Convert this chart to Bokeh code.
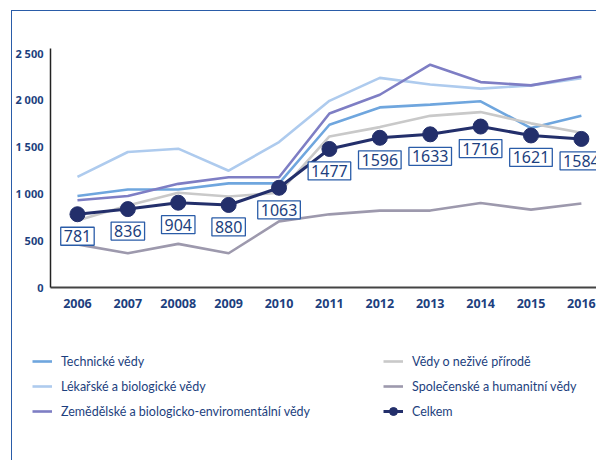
from bokeh.plotting import figure
from bokeh.layouts import column
from bokeh.models import (Range1d, FixedTicker, Legend, LegendItem, Label)
from bokeh.embed import file_html
from bokeh.resources import INLINE

# ---------------- data ----------------
years = [2006, 2007, 2008, 2009, 2010, 2011, 2012, 2013, 2014, 2015, 2016]
year_labels = ["2006", "2007", "20008", "2009", "2010", "2011", "2012",
               "2013", "2014", "2015", "2016"]

technicke = [975, 1045, 1045, 1110, 1110, 1735, 1920, 1950, 1985, 1700, 1830]
lekarske = [1180, 1445, 1480, 1245, 1550, 1990, 2235, 2165, 2120, 2155, 2230]
zemedelske = [930, 975, 1105, 1175, 1175, 1855, 2055, 2375, 2190, 2155, 2250]
nezive = [715, 875, 1010, 970, 1010, 1610, 1710, 1830, 1870, 1750, 1650]
spolecenske = [460, 365, 465, 365, 705, 780, 820, 820, 900, 830, 895]
celkem = [781, 836, 904, 880, 1063, 1477, 1596, 1633, 1716, 1621, 1584]

series_names = ["Technické vědy", "Lékařské a biologické vědy",
                "Zemědělské a biologicko-enviromentální vědy",
                "Vědy o neživé přírodě", "Společenské a humanitní vědy"]
celkem_name = "Celkem"

y_ticks = [0, 500, 1000, 1500, 2000, 2500]
y_tick_labels = ["0", "500", "1 000", "1 500", "2 000", "2 500"]

# ---------------- styles ----------------
colors = ["#6fa6de", "#aecbee", "#7e7ec4", "#c9c9c9", "#9d99ad"]
navy = "#232f6b"
text_blue = "#1d3f7e"
frame_blue = "#2a5ca8"

W = 584
H1 = 330
H2 = 119

p = figure(width=W, height=H1,
           x_range=Range1d(2005.465, 2016.3), y_range=Range1d(0, 2548),
           output_backend="svg", toolbar_location=None,
           min_border_left=38, min_border_top=37, min_border_bottom=H1 - 276,
           min_border_right=0)
p.outline_line_color = None
p.xgrid.grid_line_color = None
p.ygrid.grid_line_color = None

all_series = [technicke, lekarske, zemedelske, nezive, spolecenske]
for vals, col in zip(all_series, colors):
    p.line(years, vals, line_color=col, line_width=2.6)

p.line(years, celkem, line_color=navy, line_width=3)
p.scatter(years, celkem, size=15, fill_color=navy, line_color=navy)

for xv, yv in zip(years, celkem):
    p.add_layout(Label(x=xv, y=yv, text=str(yv), text_align="center",
                       text_baseline="top", y_offset=-13,
                       text_font_size="16px", text_font="Noto Sans",
                       text_color=text_blue, background_fill_color="white",
                       border_line_color=frame_blue, border_line_width=1.3,
                       padding=3))

# axes
p.xaxis.ticker = FixedTicker(ticks=years)
p.xaxis.major_label_overrides = dict(zip(years, year_labels))
p.yaxis.ticker = FixedTicker(ticks=y_ticks)
p.yaxis.major_label_overrides = dict(zip(y_ticks, y_tick_labels))
for ax in (p.xaxis, p.yaxis):
    ax.major_tick_line_color = None
    ax.minor_tick_line_color = None
    ax.major_tick_out = 0
    ax.major_tick_in = 0
    ax.major_label_text_font = "Noto Sans"
    ax.major_label_text_font_style = "bold"
    ax.major_label_text_color = text_blue
p.xaxis.major_label_text_font_size = "12.5px"
p.yaxis.major_label_text_font_size = "11px"
p.xaxis.major_label_standoff = 11
p.yaxis.major_label_standoff = 7
p.xaxis.axis_line_color = "#444444"
p.xaxis.axis_line_width = 1.8
p.yaxis.axis_line_color = "#222222"
p.yaxis.axis_line_width = 1.5

# ---------------- legend panel ----------------
q = figure(width=W, height=H2, x_range=Range1d(0, 1), y_range=Range1d(0, 1),
           x_axis_type=None, y_axis_type=None,
           output_backend="svg", toolbar_location=None,
           min_border_left=0, min_border_right=0, min_border_top=0,
           min_border_bottom=0)
q.outline_line_color = None
q.xgrid.grid_line_color = None
q.ygrid.grid_line_color = None
try:
    p.frame_align = False
    q.frame_align = False
except Exception:
    pass

hx = [-5, -4]
hy = [-5, -4]
leg_renderers = []
for col in colors:
    leg_renderers.append(q.line(hx, hy, line_color=col, line_width=2.6))
lc = q.line(hx, hy, line_color=navy, line_width=3)
lm = q.scatter(hx, hy, size=15, fill_color=navy, line_color=navy)


def make_legend(items, loc):
    return Legend(items=items, location=loc, orientation="vertical",
                  glyph_width=20, glyph_height=20, spacing=5,
                  label_standoff=9, padding=0, margin=0,
                  border_line_color=None, background_fill_alpha=0,
                  label_text_font="Lato", label_text_font_size="12.5px",
                  label_text_color=text_blue)


left_items = [LegendItem(label=series_names[i], renderers=[leg_renderers[i]])
              for i in range(3)]
right_items = [LegendItem(label=series_names[i], renderers=[leg_renderers[i]])
               for i in range(3, 5)]
right_items.append(LegendItem(label=celkem_name, renderers=[lc, lm]))
q.add_layout(make_legend(left_items, (20, 39)))
q.add_layout(make_legend(right_items, (371, 39)))

layout = column(p, q, spacing=0)
layout.styles = {"position": "relative", "left": "11px", "top": "10px",
                 "border-top": "1px solid " + frame_blue,
                 "border-left": "1px solid " + frame_blue}
open("out.html", "w").write(file_html(layout, INLINE))
